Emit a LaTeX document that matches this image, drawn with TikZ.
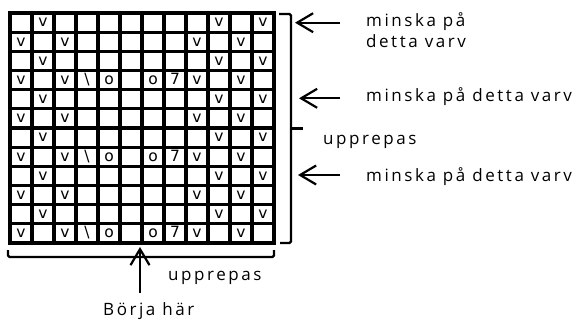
\documentclass[tikz,border=0pt]{standalone}
\usepackage{fontspec}
\setmainfont{Open Sans}[LetterSpace=15]
\newfontfamily\cellfont{DejaVu Sans}
\usetikzlibrary{arrows.meta}
\begin{document}
\begin{tikzpicture}[
    x=1pt,y=-1pt,
    GL/.style={draw=black,line width=3.2pt,line cap=rect},
    CT/.style={inner sep=0pt,anchor=base,font=\cellfont\fontsize{15.5}{18}\selectfont},
    TX/.style={inner sep=0pt,anchor=base west,align=left,font=\fontsize{17}{20.6}\selectfont},
    BR/.style={draw=black,line width=2.2pt,rounded corners=1.5pt},
    AR/.style={draw=black,line width=2.2pt,-{Straight Barb[length=16pt,width=19pt,line width=2.2pt]}}
    ]
    \useasboundingbox (0,0) rectangle (577,320);
    % chart grid
    \foreach \i in {0,...,12}
      \draw [GL] ({10+22*\i},13) -- ({10+22*\i},243);
    \foreach \j in {0,...,12}
      \draw [GL] (10,{13+230/12*\j}) -- (274,{13+230/12*\j});
    % stitches
    \foreach \r in {1,3,...,11}
      \foreach \c in {2,10,12}
        \node [CT] (c\r-\c) at ({22*\c-1},{27+230/12*(\r-1)}) {v};
    \foreach \r in {2,4,...,12}
      \foreach \c in {1,3,9,11}
        \node [CT] (c\r-\c) at ({22*\c-1},{27+230/12*(\r-1)}) {v};
    \foreach \r in {4,8,12}
      \foreach \c/\s in {4/\textbackslash,5/o,7/o,8/7}
        \node [CT] (c\r-\c) at ({22*\c-1},{27+230/12*(\r-1)}) {\s};
    % braces
    \draw [BR] (279,14) -- (291,14) -- (291,243) -- (280,243);
    \draw [BR] (291,128.5) -- (303,128.5);
    \draw [BR] (8,250) -- (8,257) -- (274,257) -- (274,250);
    % labels
    \node [TX] (M1) at (366,47.3) {minska på\\detta varv};
    \node [TX] (M2) at (366,101.7) {minska på detta varv};
    \node [TX] (U1) at (323,145) {upprepas};
    \node [TX] (M3) at (366,181.7) {minska på detta varv};
    \node [TX] (U2) at (168,280) {upprepas};
    \node [TX] (B) at (103,315) {Börja här};
    % arrows
    \coordinate (A1s) at (340,22.7);  \coordinate (A1) at (295,22.7);
    \coordinate (A2s) at (340,98.3);  \coordinate (A2) at (299,98.3);
    \coordinate (A3s) at (340,175);   \coordinate (A3) at (298,175);
    \coordinate (A4s) at (140,293);   \coordinate (A4) at (140,247);
    \draw [AR] (A1s) -- (A1);
    \draw [AR] (A2s) -- (A2);
    \draw [AR] (A3s) -- (A3);
    \draw [AR] (A4s) -- (A4);
\end{tikzpicture}
\end{document}
